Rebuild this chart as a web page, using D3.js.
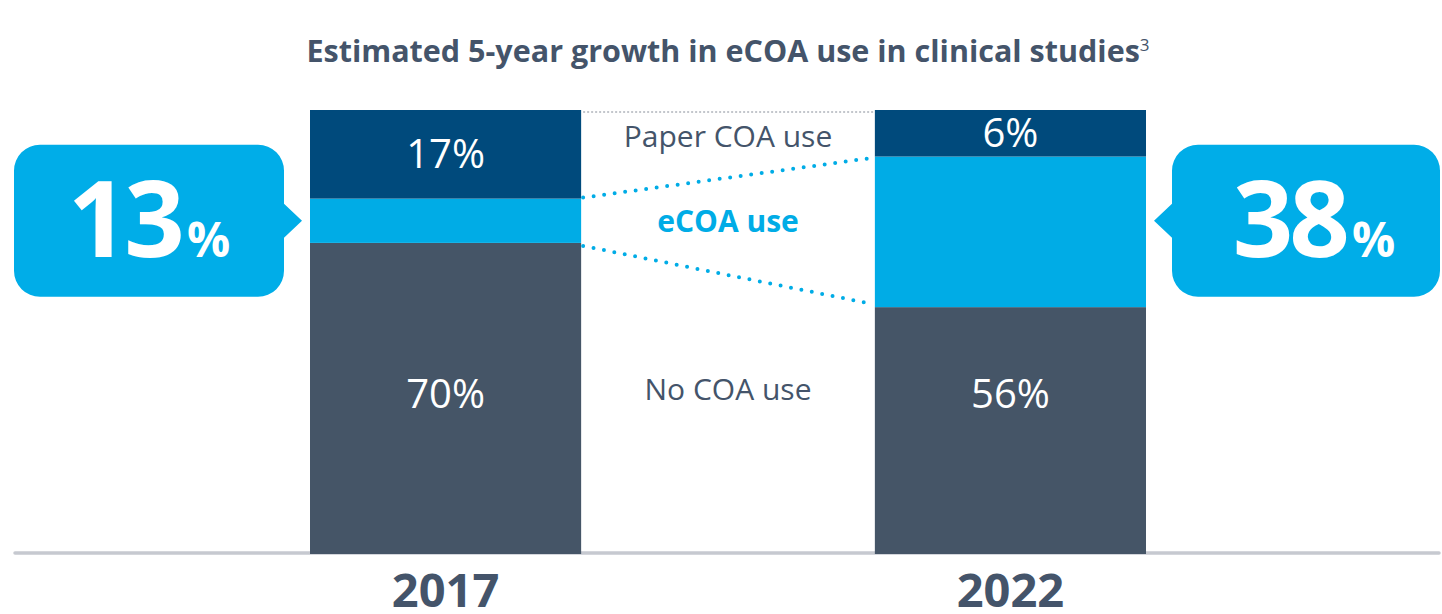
<!DOCTYPE html>
<html>
<head>
<meta charset="utf-8">
<script src="https://cdn.jsdelivr.net/npm/d3@7"></script>
<style>
  html, body { margin: 0; padding: 0; background: #ffffff; }
  svg { display: block; font-family: "Open Sans", "Noto Sans", sans-serif; }
</style>
</head>
<body>
<div id="chart"></div>
<script>
// years on the x axis
const years = ["2017", "2022"];
// segment names, bottom to top
const segments = ["No COA use", "eCOA use", "Paper COA use"];
// labelled values per year (bottom to top)
const labels2017 = ["70%", "13%", "17%"];
const labels2022 = ["56%", "38%", "6%"];
// segment heights as drawn in the picture (share of bar, bottom to top)
const drawn2017 = [70, 10, 20];
const drawn2022 = [55.5, 34, 10.5];
// callout figures (eCOA share)
const callouts = ["13", "38"];
const title = "Estimated 5-year growth in eCOA use in clinical studies";

function renderCoaChart() {
    const width = 1442, height = 614;
    const colors = { "No COA use": "#455567", "eCOA use": "#00ace6", "Paper COA use": "#004a7c" };
    const textColor = "#44546a";

    const svg = d3.select("#chart").append("svg").attr("width", width).attr("height", height);

    const x = d3.scaleBand().domain(years).range([310, 1146]).paddingInner(0.52).paddingOuter(0);
    const y = d3.scaleLinear().domain([0, 100]).range([553, 110]);

    const rows = years.map((yr, i) => {
        const shares = i === 0 ? drawn2017 : drawn2022;
        const labs = i === 0 ? labels2017 : labels2022;
        let acc = 0;
        const segs = segments.map((s, j) => {
            const seg = { key: s, y0: acc, y1: acc + shares[j], label: labs[j] };
            acc += shares[j];
            return seg;
        });
        return { year: yr, segs };
    });

    // baseline
    svg.append("line")
        .attr("x1", 15).attr("x2", 1439).attr("y1", y(0)).attr("y2", y(0))
        .attr("stroke", "#c6c9d0").attr("stroke-width", 3.5).attr("stroke-linecap", "round");

    // grey dotted line across the top
    svg.append("line")
        .attr("x1", x("2017") + x.bandwidth() + 2).attr("x2", x("2022") - 1)
        .attr("y1", y(100) + 2).attr("y2", y(100) + 2)
        .attr("stroke", "#c3c6cc").attr("stroke-width", 2)
        .attr("stroke-dasharray", "2 2");

    // bars
    const bar = svg.selectAll(".bar").data(rows).enter().append("g").attr("class", "bar");
    bar.selectAll("rect").data(d => d.segs.map(s => ({ ...s, year: d.year }))).enter().append("rect")
        .attr("x", d => x(d.year))
        .attr("width", x.bandwidth())
        .attr("y", d => y(d.y1))
        .attr("height", d => y(d.y0) - y(d.y1) + (d.y0 === 0 ? 1 : 0))
        .attr("fill", d => colors[d.key]);

    // dotted connectors for the eCOA band
    const e17 = rows[0].segs[1], e22 = rows[1].segs[1];
    const xa = x("2017") + x.bandwidth() + 2, xb = x("2022") - 7;
    [[y(e17.y1) - 1, y(e22.y1) + 2], [y(e17.y0) + 3, y(e22.y0) - 4]].forEach(([ya, yb]) => {
        svg.append("line")
            .attr("x1", xa).attr("y1", ya).attr("x2", xb).attr("y2", yb)
            .attr("stroke", colors["eCOA use"]).attr("stroke-width", 4)
            .attr("stroke-linecap", "round").attr("stroke-dasharray", "0 10.6");
    });

    // value labels inside bars
    const noCoaY = y(36);
    rows.forEach(r => {
        r.segs.forEach(s => {
            if (s.key === "eCOA use") return;
            const cy = s.key === "No COA use" ? noCoaY : (y(s.y0) + y(s.y1)) / 2 - 1;
            svg.append("text")
                .attr("x", x(r.year) + x.bandwidth() / 2)
                .attr("y", cy)
                .attr("dy", "0.36em")
                .attr("text-anchor", "middle")
                .attr("fill", "#ffffff")
                .style("font-size", "40px")
                .text(s.label);
        });
    });

    // segment names in the middle
    const midX = (x("2017") + x.bandwidth() + x("2022")) / 2;
    svg.append("text").attr("x", midX).attr("y", 136).attr("dy", "0.36em").attr("text-anchor", "middle")
        .attr("fill", textColor).style("font-size", "30px").text("Paper COA use");
    svg.append("text").attr("x", midX).attr("y", (y(e17.y0) + y(e17.y1)) / 2).attr("dy", "0.36em").attr("text-anchor", "middle")
        .attr("fill", colors["eCOA use"]).style("font-size", "30px").style("font-weight", 700).text("eCOA use");
    svg.append("text").attr("x", midX).attr("y", noCoaY - 4).attr("dy", "0.36em").attr("text-anchor", "middle")
        .attr("fill", textColor).style("font-size", "30px").text("No COA use");

    // callouts
    const cy = (y(e17.y0) + y(e17.y1)) / 2;
    const boxH = 152, r = 26, gap = 26, tip = 8, half = 17;
    const boxes = [
        { x0: 14, x1: x("2017") - gap, side: "right", tipX: x("2017") - tip, value: callouts[0] },
        { x0: x("2022") + x.bandwidth() + gap, x1: 1440, side: "left", tipX: x("2022") + x.bandwidth() + tip, value: callouts[1] }
    ];
    boxes.forEach(b => {
        const t = cy - boxH / 2, btm = cy + boxH / 2;
        const p = d3.path();
        p.moveTo(b.x0 + r, t);
        p.lineTo(b.x1 - r, t);
        p.arcTo(b.x1, t, b.x1, t + r, r);
        if (b.side === "right") {
            p.lineTo(b.x1, cy - half);
            p.lineTo(b.tipX, cy);
            p.lineTo(b.x1, cy + half);
        }
        p.lineTo(b.x1, btm - r);
        p.arcTo(b.x1, btm, b.x1 - r, btm, r);
        p.lineTo(b.x0 + r, btm);
        p.arcTo(b.x0, btm, b.x0, btm - r, r);
        if (b.side === "left") {
            p.lineTo(b.x0, cy + half);
            p.lineTo(b.tipX, cy);
            p.lineTo(b.x0, cy - half);
        }
        p.lineTo(b.x0, t + r);
        p.arcTo(b.x0, t, b.x0 + r, t, r);
        p.closePath();
        svg.append("path").attr("d", p.toString()).attr("fill", "#00ade8");

        const txt = svg.append("text")
            .attr("x", (b.x0 + b.x1) / 2 + (b.side === "left" ? 8 : 0))
            .attr("y", cy + 36)
            .attr("text-anchor", "middle")
            .attr("fill", "#ffffff")
            .style("font-weight", 700);
        txt.append("tspan").style("font-size", "106px").style("letter-spacing", "-4px").text(b.value);
        txt.append("tspan").attr("dx", 6).style("font-size", "48px").text("%");
    });

    // title
    const tt = svg.append("text").attr("x", 728).attr("y", 62).attr("text-anchor", "middle")
        .attr("fill", textColor).style("font-size", "30.5px").style("font-weight", 700);
    tt.append("tspan").text(title);
    tt.append("tspan").attr("dy", -11).style("font-size", "17px").style("font-weight", 400).text("3");

    // year labels
    svg.selectAll(".year").data(years).enter().append("text")
        .attr("x", d => x(d) + x.bandwidth() / 2)
        .attr("y", 607)
        .attr("text-anchor", "middle")
        .attr("fill", textColor)
        .style("font-size", "47px").style("font-weight", 700)
        .text(d => d);
}

renderCoaChart();
</script>
</body>
</html>
